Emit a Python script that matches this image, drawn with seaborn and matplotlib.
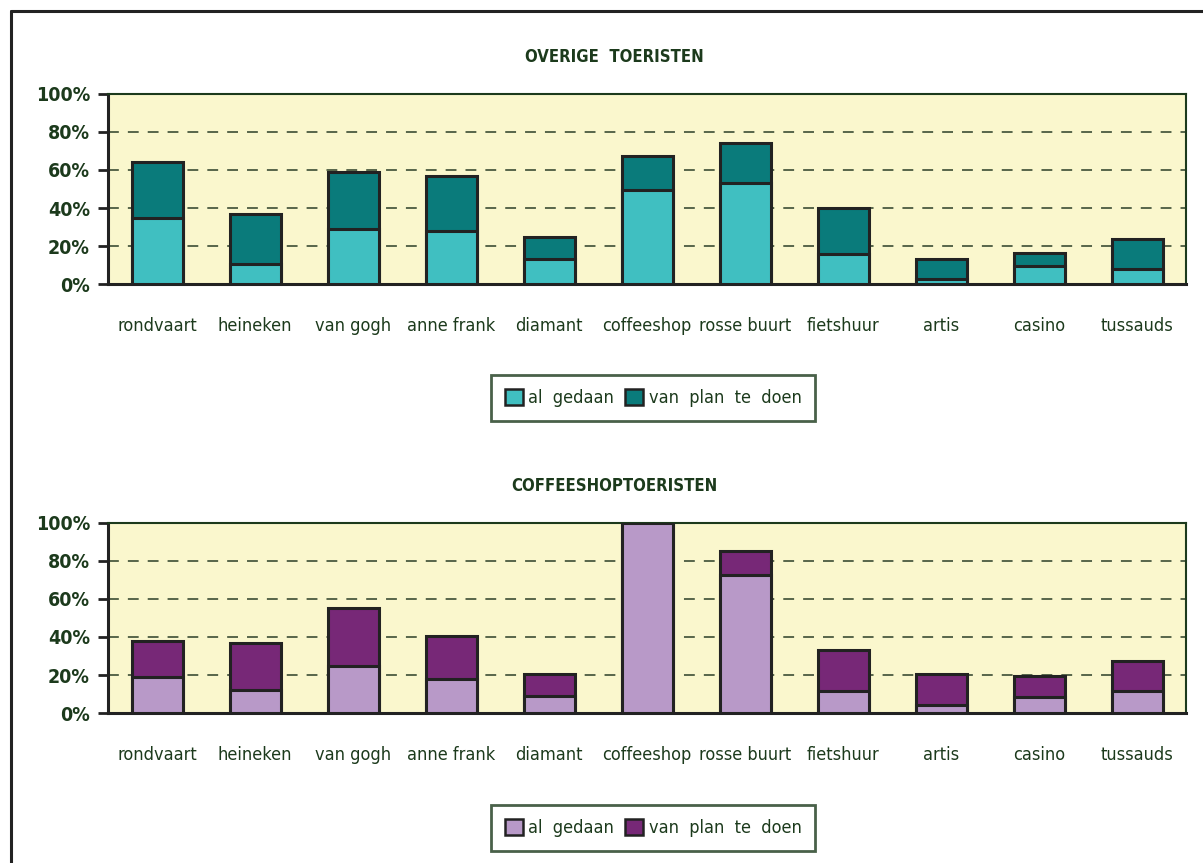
import matplotlib
matplotlib.use("Agg")
import numpy as np
import pandas as pd
import seaborn as sns
import matplotlib.pyplot as plt
from matplotlib.patches import Patch
from matplotlib.lines import Line2D

categories = ["rondvaart", "heineken", "van gogh", "anne frank", "diamant", "coffeeshop",
              "rosse buurt", "fietshuur", "artis", "casino", "tussauds"]
# overige toeristen
overig_gedaan = [34.5, 10.5, 29, 28, 13, 49.5, 53, 16, 2.8, 9.5, 7.8]
overig_plan = [29.5, 26.5, 30, 29, 12, 18, 21, 24, 10.2, 6.8, 16]
# coffeeshoptoeristen
coffee_gedaan = [19, 12, 25, 18, 9, 100, 72.5, 11.6, 4.4, 8.5, 11.6]
coffee_plan = [19, 25, 30, 22.7, 11.6, 0, 12.5, 21.4, 16.2, 11.1, 15.9]
titles = ["OVERIGE  TOERISTEN", "COFFEESHOPTOERISTEN"]
legend_labels = ["al  gedaan", "van  plan  te  doen"]

sns.set_style("white")
plt.rcParams['font.family'] = ['DejaVu Sans']
plt.rcParams['font.stretch'] = 'condensed'
txt = "#1c3a1c"
bg = "#faf7cd"
edge = "#222222"

fig = plt.figure(figsize=(12.03, 8.63), dpi=100)

panels = [
    (overig_gedaan, overig_plan, "#40bfc1", "#0a7b7b", 0.6709, 0.5388, 57),
    (coffee_gedaan, coffee_plan, "#b899c8", "#772877", 0.1738, 0.0405, 486),
]

for i, (gedaan, plan, c1, c2, bottom, leg_y, title_y) in enumerate(panels):
    ax = fig.add_axes([0.0898, bottom, 0.8961, 0.2202])
    ax.set_facecolor(bg)
    df = pd.DataFrame({"cat": categories, "gedaan": gedaan,
                       "totaal": np.array(gedaan) + np.array(plan)})
    sns.barplot(data=df, x="cat", y="totaal", color=c2, width=0.52, saturation=1,
                edgecolor=edge, linewidth=2.2, ax=ax, zorder=3)
    sns.barplot(data=df, x="cat", y="gedaan", color=c1, width=0.52, saturation=1,
                edgecolor=edge, linewidth=2.2, ax=ax, zorder=4)
    ax.set_xlim(-0.5, len(categories) - 0.5)
    ax.set_ylim(0, 100)
    ax.set_xlabel("")
    ax.set_ylabel("")
    ax.set_yticks([0, 20, 40, 60, 80, 100])
    ax.set_yticklabels(["0%", "20%", "40%", "60%", "80%", "100%"], fontsize=14,
                       fontweight="bold", color=txt)
    for y in [20, 40, 60, 80]:
        ax.axhline(y, color="#4a5a40", lw=1.3, ls=(0, (6, 5)), zorder=1)
    ax.set_xticks(range(len(categories)))
    ax.set_xticklabels(categories, fontsize=13, color=txt)
    ax.set_xticks(np.arange(-0.5, len(categories)), minor=True)
    ax.tick_params(axis="x", which="major", length=0, pad=24)
    ax.tick_params(axis="x", which="minor", length=7, width=2, color=edge, direction="out")
    ax.tick_params(axis="y", length=7, width=2, color=edge, direction="out", pad=6, left=True)
    for s in ["left", "bottom"]:
        ax.spines[s].set_color(edge)
        ax.spines[s].set_linewidth(2.2)
    for s in ["top", "right"]:
        ax.spines[s].set_color(txt)
        ax.spines[s].set_linewidth(1.5)
    fig.text(614 / 1203, 1 - title_y / 863, titles[i], ha="center", va="center",
             fontsize=12, fontweight="bold", color=txt)
    handles = [Patch(facecolor=c1, edgecolor=edge, linewidth=1.8),
               Patch(facecolor=c2, edgecolor=edge, linewidth=1.8)]
    leg = fig.legend(handles, legend_labels, loc="center", bbox_to_anchor=(0.543, leg_y),
                     ncol=2, fontsize=13, frameon=True, fancybox=False, handlelength=1.0,
                     handleheight=1.0, handletextpad=0.3, columnspacing=0.6,
                     borderpad=0.75, borderaxespad=0, labelcolor=txt)
    leg.get_frame().set_edgecolor(txt)
    leg.get_frame().set_linewidth(2)

# outer frame (left and top edges visible)
fig.add_artist(Line2D([11 / 1203, 11 / 1203], [0, 1 - 11 / 863], color=edge, lw=2.2))
fig.add_artist(Line2D([11 / 1203, 1], [1 - 11 / 863, 1 - 11 / 863], color=edge, lw=2.2))

fig.savefig("out.png", dpi=100, facecolor="white")
